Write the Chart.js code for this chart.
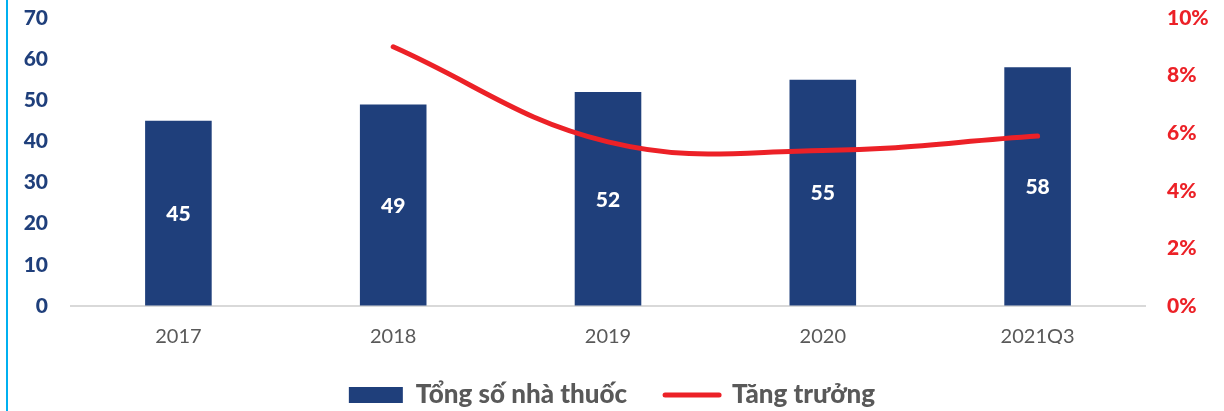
<!DOCTYPE html>
<html><head><meta charset="utf-8">
<script src="https://cdn.jsdelivr.net/npm/chart.js@4/dist/chart.umd.min.js"></script>
<style>
html,body{margin:0;padding:0;background:#fff;}
#wrap{position:relative;width:1224px;height:411px;}
#bar{position:absolute;left:6px;top:0;width:2px;height:411px;background:#00B0F0;}
canvas{position:absolute;left:0;top:0;}
</style></head>
<body><div id="wrap"><div id="bar"></div><canvas id="c" width="1224" height="411"></canvas></div>
<script>
const categories = ['2017','2018','2019','2020','2021Q3'];
const pharmacies = [45, 49, 52, 55, 58];
const growth = [null, 0.090, 0.057, 0.054, 0.059];
const leftTicks = [0,10,20,30,40,50,60,70];
const rightTicks = [0,0.02,0.04,0.06,0.08,0.10];

const BLUE = '#1F3F7B', RED = '#EC2127', GRAY = '#595959';
const FONT = 'Lato, "Open Sans", sans-serif';
const HEAVY = 900;

const barLabels = {
  id: 'barLabels',
  afterDatasetsDraw(chart) {
    const ctx = chart.ctx;
    const meta = chart.getDatasetMeta(1);
    ctx.save();
    ctx.fillStyle = '#fff';
    ctx.font = HEAVY + ' 21px ' + FONT;
    ctx.textAlign = 'center';
    ctx.textBaseline = 'middle';
    meta.data.forEach((el, i) => {
      const p = el.getProps(['x','y','base'], true);
      ctx.fillText(String(pharmacies[i]), p.x, (p.y + p.base) / 2 + 1);
    });
    ctx.restore();
  }
};

const hiddenGrid = (len) => ({ display: true, drawOnChartArea: false, drawTicks: true, tickLength: len, color: 'rgba(0,0,0,0)' });

new Chart(document.getElementById('c'), {
  data: {
    labels: categories,
    datasets: [
      { type: 'line', label: 'Tăng trưởng', data: growth, yAxisID: 'y1',
        borderColor: RED, backgroundColor: RED, borderWidth: 5, tension: 0.4,
        pointRadius: 0, borderCapStyle: 'round', pointStyle: 'line', order: 0 },
      { type: 'bar', label: 'Tổng số nhà thuốc', data: pharmacies, yAxisID: 'y',
        backgroundColor: BLUE, borderWidth: 0, categoryPercentage: 1, barPercentage: 0.31,
        pointStyle: 'rect', order: 1 }
    ]
  },
  options: {
    responsive: false, animation: false,
    layout: { padding: { left: 0, right: 0, top: 18, bottom: -7 } },
    plugins: {
      tooltip: { enabled: false },
      legend: {
        position: 'bottom', reverse: true,
        labels: {
          usePointStyle: true, pointStyleWidth: 54, boxHeight: 16,
          color: GRAY, font: { family: FONT, size: 26, weight: HEAVY }, padding: 38,
          generateLabels(chart) {
            const items = Chart.defaults.plugins.legend.labels.generateLabels(chart);
            items.forEach(it => {
              if (it.datasetIndex === 1) { it.lineWidth = 0; it.strokeStyle = BLUE; it.fillStyle = BLUE; }
              else { it.lineWidth = 5; it.strokeStyle = RED; it.lineCap = 'round'; }
            });
            return items;
          }
        }
      }
    },
    scales: {
      x: {
        afterFit(s) { s.height = 38; },
        grid: { display: false, drawTicks: false },
        border: { display: true, color: '#D9D9D9', width: 2 },
        ticks: { color: GRAY, font: { family: FONT, size: 20 }, padding: 19 }
      },
      y: {
        position: 'left', min: 0, max: 70,
        afterBuildTicks(s) { s.ticks = leftTicks.map(v => ({ value: v })); },
        afterFit(s) { s.width = 71; },
        grid: hiddenGrid(20),
        border: { display: false },
        ticks: { color: BLUE, font: { family: FONT, size: 21, weight: HEAVY }, padding: 3 }
      },
      y1: {
        position: 'right', min: 0, max: 0.1,
        afterBuildTicks(s) { s.ticks = rightTicks.map(v => ({ value: v })); },
        afterFit(s) { s.width = 79; },
        grid: hiddenGrid(19),
        border: { display: false },
        ticks: { color: RED, font: { family: FONT, size: 21, weight: HEAVY }, padding: 3,
          callback: v => Math.round(v * 100) + '%' }
      }
    }
  },
  plugins: [barLabels]
});
</script></body></html>
